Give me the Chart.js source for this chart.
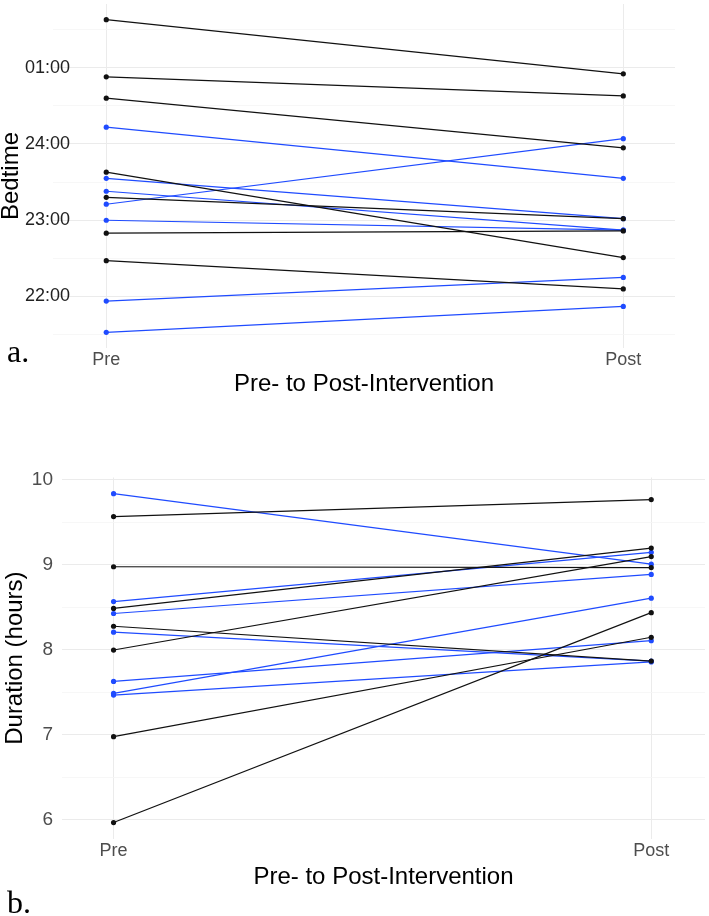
<!DOCTYPE html>
<html>
<head>
<meta charset="utf-8">
<script src="https://cdn.jsdelivr.net/npm/chart.js@4/dist/chart.umd.min.js"></script>
<style>
  html, body { margin: 0; padding: 0; background: #fff; }
  body { width: 709px; height: 916px; position: relative; overflow: hidden; }
  canvas { position: absolute; left: 0; }
  #bedtimeChart { top: 0; }
  #durationChart { top: 440px; }
  .panel-tag { position: absolute; left: 7px; font: 32px/1 'Liberation Serif', 'Times New Roman', serif; color: #000; }
</style>
</head>
<body>
<canvas id="bedtimeChart" width="709" height="400"></canvas>
<canvas id="durationChart" width="709" height="450"></canvas>
<div class="panel-tag" style="top:335px">a.</div>
<div class="panel-tag" style="top:886px">b.</div>
<script>
const phases = ['Pre', 'Post'];

// ===== Panel a: bedtime (clock hours, 24 = midnight, 25 = 01:00) =====
const bedtimePre   = [25.63, 24.88, 24.60, 23.63, 23.30, 22.83, 22.47, 24.22, 23.55, 23.38, 23.21, 23.00, 21.94, 21.53];
const bedtimePost  = [24.92, 24.63, 23.95, 22.51, 23.02, 22.86, 22.10, 23.55, 23.02, 22.87, 24.07, 22.87, 22.25, 21.87];
const bedtimeGroup = ['black', 'black', 'black', 'black', 'black', 'black', 'black',
                      'blue', 'blue', 'blue', 'blue', 'blue', 'blue', 'blue'];
const bedtimeTicks      = [21.5, 22, 22.5, 23, 23.5, 24, 24.5, 25, 25.5];
const bedtimeTickLabels = ['', '22:00', '', '23:00', '', '24:00', '', '01:00', ''];

// ===== Panel b: sleep duration (hours) =====
const durationPre   = [9.57, 8.98, 8.49, 8.28, 8.00, 6.98, 5.97, 9.84, 8.57, 8.43, 8.21, 7.63, 7.49, 7.47];
const durationPost  = [9.77, 8.97, 9.20, 7.87, 9.10, 8.15, 8.44, 9.01, 9.15, 8.89, 7.87, 8.11, 8.61, 7.86];
const durationGroup = ['black', 'black', 'black', 'black', 'black', 'black', 'black',
                       'blue', 'blue', 'blue', 'blue', 'blue', 'blue', 'blue'];
const durationTicks      = [6, 6.5, 7, 7.5, 8, 8.5, 9, 9.5, 10];
const durationTickLabels = ['6', '', '7', '', '8', '', '9', '', '10'];

const lineColors = { black: '#111111', blue: '#1f4bff' };

Chart.defaults.font.family = "'Liberation Sans', Arial, Helvetica, sans-serif";

function pairedChart(id, pre, post, group, ticks, tickLabels, o) {
  const datasets = pre.map((v, i) => ({
    data: [{ x: 0, y: v }, { x: 1, y: post[i] }],
    borderColor: lineColors[group[i]],
    backgroundColor: lineColors[group[i]],
    borderWidth: 1.2,
    pointRadius: 2.6,
    pointBorderWidth: 0,
    tension: 0,
  }));

  return new Chart(document.getElementById(id), {
    type: 'line',
    data: { datasets },
    options: {
      responsive: false,
      animation: false,
      events: [],
      layout: { padding: o.padding },
      plugins: { legend: { display: false }, tooltip: { enabled: false } },
      scales: {
        x: {
          type: 'linear',
          min: o.xMin,
          max: o.xMax,
          afterBuildTicks: s => { s.ticks = phases.map((_, i) => ({ value: i })); },
          afterFit: s => { s.height = o.xAxisHeight; s.paddingLeft = 0; s.paddingRight = 0; },
          ticks: {
            autoSkip: false, maxRotation: 0, padding: o.xTickPad,
            color: '#4d4d4d', font: { size: 18 },
            callback: v => phases[v],
          },
          grid: { color: '#ebebeb', lineWidth: 1, drawTicks: false },
          border: { display: false },
          title: {
            display: true, text: 'Pre- to Post-Intervention', color: '#000',
            font: { size: 24, lineHeight: 0.9 }, padding: { top: 0, bottom: o.xTitlePad },
          },
        },
        y: {
          type: 'linear',
          min: o.yMin,
          max: o.yMax,
          afterBuildTicks: s => { s.ticks = ticks.map(value => ({ value })); },
          afterFit: s => { s.width = o.yAxisWidth; s.paddingTop = 0; s.paddingBottom = 0; },
          ticks: {
            autoSkip: false, padding: o.yTickPad,
            // mirrored labels are not clipped, so panel a can overlap the plot like the original
            mirror: o.yMirror, crossAlign: o.yMirror ? 'far' : 'near',
            color: o.yTickColor, font: { size: o.yTickSize },
            callback: (v, i) => tickLabels[i],
          },
          grid: {
            color: ctx => tickLabels[ctx.index] ? '#ebebeb' : '#f5f5f5',
            lineWidth: ctx => tickLabels[ctx.index] ? 1.1 : 0.8,
            drawTicks: false,
          },
          border: { display: false },
          title: {
            display: true, text: o.yTitle, color: '#000',
            font: { size: 24, lineHeight: 0.9 }, padding: { top: o.yTitlePad, bottom: 0 },
          },
        },
      },
    },
  });
}

pairedChart('bedtimeChart', bedtimePre, bedtimePost, bedtimeGroup, bedtimeTicks, bedtimeTickLabels, {
  padding: { top: 1, right: 34, bottom: 0, left: 0 },
  xMin: -0.103, xMax: 1.1, yMin: 21.325, yMax: 25.835,
  xAxisHeight: 52, yAxisWidth: 53,
  xTickPad: 1.2, xTitlePad: 5.2,
  yMirror: true, yTickPad: -28, yTickColor: '#222222', yTickSize: 18,
  yTitle: 'Bedtime', yTitlePad: 1,
});

pairedChart('durationChart', durationPre, durationPost, durationGroup, durationTicks, durationTickLabels, {
  padding: { top: 37.5, right: 2, bottom: 0, left: 0 },
  xMin: -0.0959, xMax: 1.1, yMin: 5.78, yMax: 10.03,
  xAxisHeight: 51.3, yAxisWidth: 62,
  xTickPad: 2, xTitlePad: 2.2,
  yMirror: false, yTickPad: 9, yTickColor: '#4d4d4d', yTickSize: 19,
  yTitle: 'Duration (hours)', yTitlePad: 4.2,
});
</script>
</body>
</html>
